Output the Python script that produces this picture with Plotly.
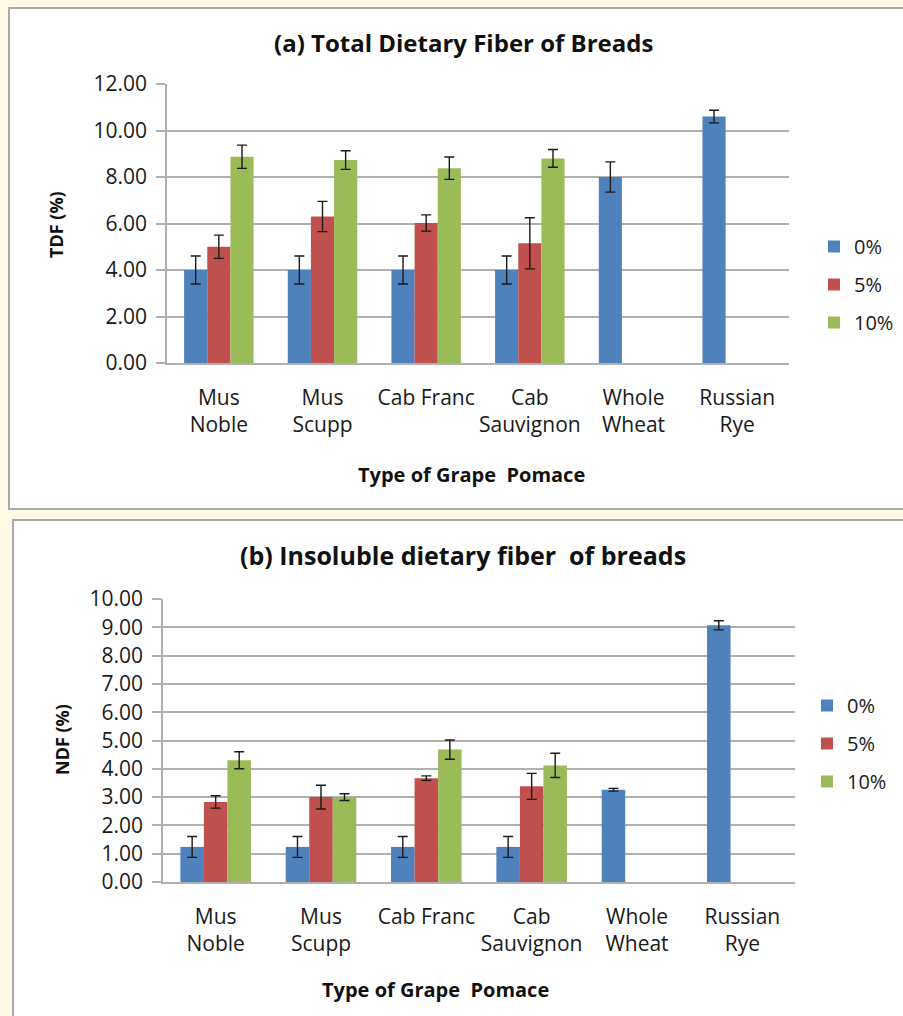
import plotly.graph_objects as go

categories = ["Mus<br>Noble", "Mus<br>Scupp", "Cab Franc", "Cab<br>Sauvignon", "Whole<br>Wheat", "Russian<br>Rye"]
series_names = ["0%", "5%", "10%"]

# (a) Total dietary fiber
tdf_0 = [4.0, 4.0, 4.0, 4.0, 8.0, 10.6]
tdf_0_err = [0.6, 0.6, 0.6, 0.6, 0.65, 0.27]
tdf_5 = [5.0, 6.3, 6.02, 5.15, None, None]
tdf_5_err = [0.5, 0.65, 0.35, 1.1, None, None]
tdf_10 = [8.87, 8.73, 8.38, 8.8, None, None]
tdf_10_err = [0.5, 0.4, 0.48, 0.38, None, None]

# (b) Insoluble dietary fiber
ndf_0 = [1.24, 1.24, 1.24, 1.24, 3.26, 9.07]
ndf_0_err = [0.37, 0.37, 0.37, 0.37, 0.05, 0.16]
ndf_5 = [2.83, 3.0, 3.67, 3.38, None, None]
ndf_5_err = [0.22, 0.42, 0.08, 0.46, None, None]
ndf_10 = [4.3, 3.0, 4.68, 4.12, None, None]
ndf_10_err = [0.3, 0.12, 0.34, 0.43, None, None]

colors = ["#4F81BD", "#C0504D", "#9BBB59"]
FONT = "Open Sans"
W, H = 903, 1016

fig = go.Figure()

def add_bars(vals, errs, xaxis, yaxis, legend, prefix):
    for i, (v, e) in enumerate(zip(vals, errs)):
        fig.add_trace(go.Bar(
            x=categories, y=v, name=series_names[i],
            marker=dict(color=colors[i], line=dict(width=0)),
            error_y=dict(type="data", array=e, visible=True, color="#1a1a1a",
                         thickness=1.4, width=5),
            xaxis=xaxis, yaxis=yaxis, legend=legend,
            legendgroup=f"{prefix}{i}",
        ))

add_bars([tdf_0, tdf_5, tdf_10], [tdf_0_err, tdf_5_err, tdf_10_err], "x", "y", "legend", "a")
add_bars([ndf_0, ndf_5, ndf_10], [ndf_0_err, ndf_5_err, ndf_10_err], "x2", "y2", "legend2", "b")

def px_x(p):
    return p / W

def px_y(p):
    return 1 - p / H

grid = "#B0B0B0"
line_common = dict(showline=True, linecolor=grid, linewidth=1.5, automargin=False)
xfont = dict(family=FONT, size=21, color="#1a1a1a")
yfont = dict(family=FONT, size=21, color="#1a1a1a")
ycommon = dict(tickformat=".2f", showgrid=True, gridcolor=grid, gridwidth=1.5,
               ticks="outside", ticklen=9, tickcolor=grid, tickwidth=1.5,
               ticklabelstandoff=5, zeroline=False, tickfont=yfont, **line_common)
xcommon = dict(ticks="", ticklabelstandoff=15, tickfont=xfont, **line_common)
legfont = dict(family=FONT, size=20, color="#1a1a1a")

fig.update_layout(
    width=W, height=H,
    margin=dict(l=0, r=0, t=0, b=0),
    paper_bgcolor="#FEFAE6",
    plot_bgcolor="rgba(0,0,0,0)",
    barmode="group", bargap=0.33, bargroupgap=0,
    showlegend=True,
    xaxis=dict(domain=[px_x(167), px_x(789)], anchor="y", **xcommon),
    yaxis=dict(domain=[px_y(363), px_y(84)], anchor="x", range=[0, 12], dtick=2, **ycommon),
    xaxis2=dict(domain=[px_x(163), px_x(795)], anchor="y2", **xcommon),
    yaxis2=dict(domain=[px_y(882), px_y(599)], anchor="x2", range=[0, 10], dtick=1, **ycommon),
    legend=dict(x=px_x(814), y=px_y(227), xanchor="left", yanchor="top",
                font=legfont, tracegroupgap=9, bgcolor="rgba(0,0,0,0)", itemwidth=30),
    legend2=dict(x=px_x(807), y=px_y(686), xanchor="left", yanchor="top",
                 font=legfont, tracegroupgap=9, bgcolor="rgba(0,0,0,0)", itemwidth=30),
)

# Panel frames
fig.add_shape(type="rect", xref="paper", yref="paper", layer="below",
              x0=px_x(9), x1=px_x(910), y0=px_y(509), y1=px_y(8),
              fillcolor="white", line=dict(color="#AAAAAA", width=2))
fig.add_shape(type="rect", xref="paper", yref="paper", layer="below",
              x0=px_x(13), x1=px_x(910), y0=px_y(1030), y1=px_y(520),
              fillcolor="white", line=dict(color="#AAAAAA", width=2))

def ann(text, x, y, size, angle=0):
    fig.add_annotation(text=text, xref="paper", yref="paper", x=px_x(x), y=px_y(y),
                       showarrow=False, textangle=angle, xanchor="center", yanchor="middle",
                       font=dict(family=FONT, size=size, color="#111111"))

ann("<b>(a) Total Dietary Fiber of Breads</b>", 463, 42, 24)
ann("<b>Type of Grape\u00a0 Pomace</b>", 471, 474, 20)
ann("<b>TDF (%)</b>", 56, 225, 18, -90)

ann("<b>(b) Insoluble dietary fiber\u00a0 of breads</b>", 463, 555, 25)
ann("<b>Type of Grape\u00a0 Pomace</b>", 435, 989, 20)
ann("<b>NDF (%)</b>", 62, 740, 18, -90)

fig.write_html("out.html")
